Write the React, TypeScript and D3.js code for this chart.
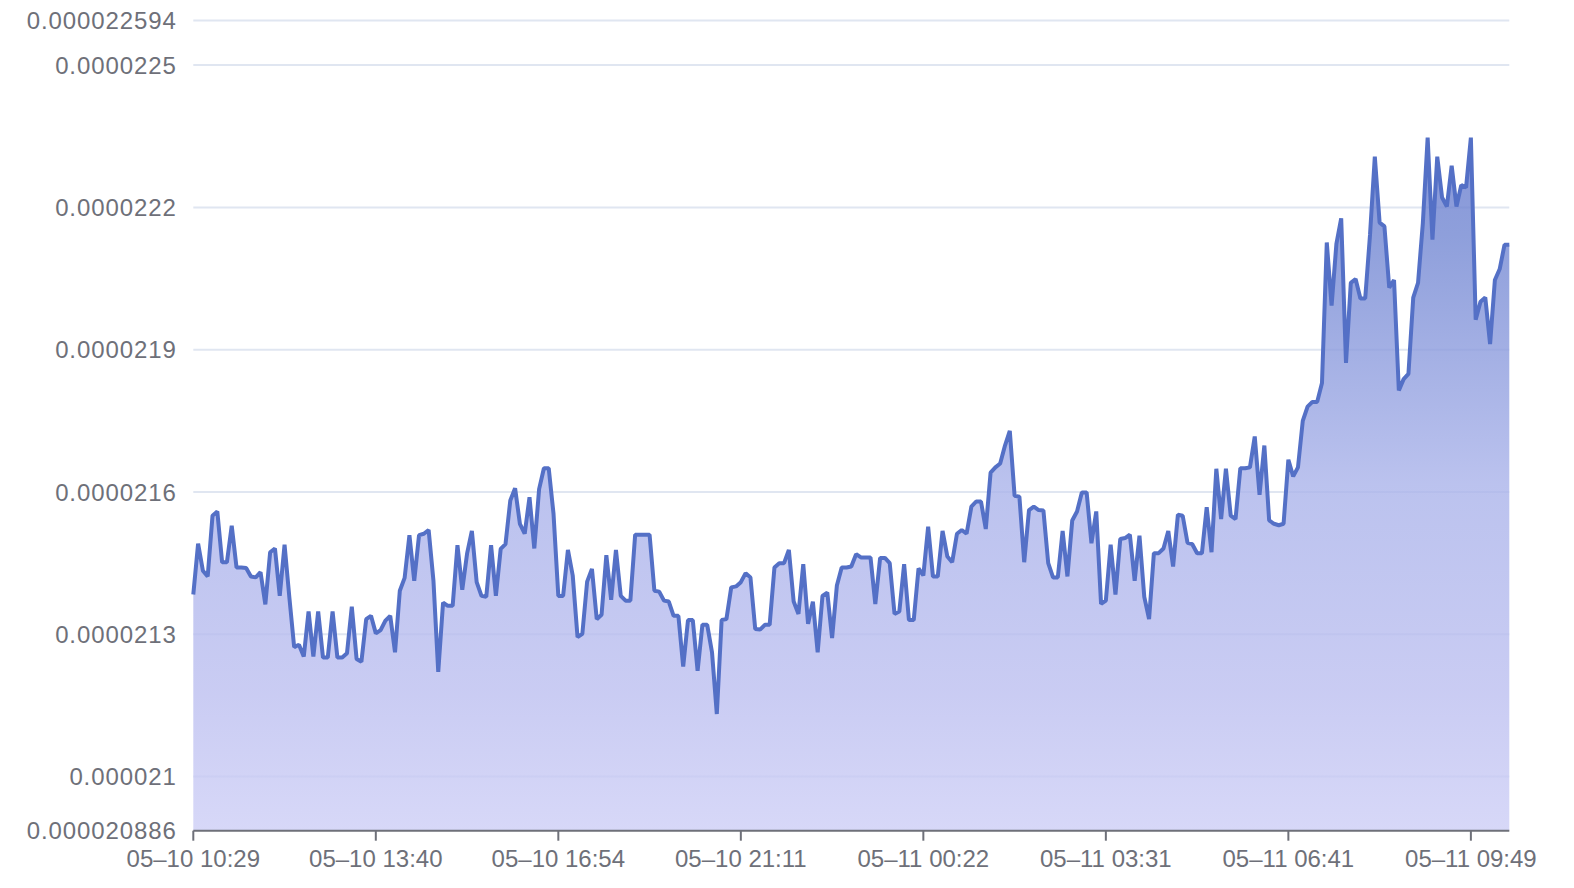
import { useMemo } from "react"
import * as d3 from "d3"

// price series, one point every ~5 minutes
const values = [
  2.1384e-5, 2.1491e-5, 2.1434e-5, 2.1422e-5, 2.155e-5, 2.1559e-5, 2.1452e-5, 2.1452e-5, 2.1529e-5, 2.1441e-5,
  2.1441e-5, 2.144e-5, 2.1422e-5, 2.142e-5, 2.1431e-5, 2.1363e-5, 2.1473e-5, 2.1481e-5, 2.1381e-5, 2.1489e-5,
  2.1378e-5, 2.1273e-5, 2.1278e-5, 2.1253e-5, 2.1348e-5, 2.1253e-5, 2.1348e-5, 2.1251e-5, 2.1251e-5, 2.1348e-5,
  2.1251e-5, 2.1251e-5, 2.126e-5, 2.1358e-5, 2.1248e-5, 2.1242e-5, 2.1332e-5, 2.1339e-5, 2.1302e-5, 2.1309e-5,
  2.1329e-5, 2.1339e-5, 2.1262e-5, 2.1392e-5, 2.1419e-5, 2.1509e-5, 2.1413e-5, 2.1509e-5, 2.1512e-5, 2.152e-5,
  2.1413e-5, 2.1221e-5, 2.1367e-5, 2.136e-5, 2.136e-5, 2.1488e-5, 2.1394e-5, 2.147e-5, 2.1518e-5, 2.141e-5,
  2.1381e-5, 2.1379e-5, 2.1488e-5, 2.1381e-5, 2.148e-5, 2.149e-5, 2.1582e-5, 2.1608e-5, 2.1533e-5, 2.1512e-5,
  2.1589e-5, 2.1481e-5, 2.1606e-5, 2.165e-5, 2.165e-5, 2.1554e-5, 2.1381e-5, 2.1381e-5, 2.1478e-5, 2.1424e-5,
  2.1294e-5, 2.1301e-5, 2.1411e-5, 2.1438e-5, 2.1332e-5, 2.1341e-5, 2.1467e-5, 2.1373e-5, 2.1478e-5, 2.1381e-5,
  2.1371e-5, 2.1371e-5, 2.151e-5, 2.151e-5, 2.151e-5, 2.151e-5, 2.1392e-5, 2.139e-5, 2.1371e-5, 2.1369e-5,
  2.1339e-5, 2.1339e-5, 2.1232e-5, 2.133e-5, 2.133e-5, 2.1223e-5, 2.132e-5, 2.132e-5, 2.1262e-5, 2.1132e-5,
  2.133e-5, 2.1332e-5, 2.1399e-5, 2.1401e-5, 2.141e-5, 2.1429e-5, 2.142e-5, 2.1311e-5, 2.131e-5, 2.132e-5,
  2.132e-5, 2.1441e-5, 2.145e-5, 2.145e-5, 2.1478e-5, 2.1369e-5, 2.1343e-5, 2.1448e-5, 2.1322e-5, 2.1369e-5,
  2.1262e-5, 2.1381e-5, 2.1388e-5, 2.1292e-5, 2.1403e-5, 2.1441e-5, 2.1441e-5, 2.1443e-5, 2.1469e-5, 2.1462e-5,
  2.1462e-5, 2.1462e-5, 2.1364e-5, 2.1461e-5, 2.1461e-5, 2.145e-5, 2.1343e-5, 2.1348e-5, 2.1448e-5, 2.133e-5,
  2.133e-5, 2.1439e-5, 2.1424e-5, 2.1527e-5, 2.1422e-5, 2.1422e-5, 2.1518e-5, 2.1464e-5, 2.1452e-5, 2.1512e-5,
  2.152e-5, 2.1512e-5, 2.1569e-5, 2.158e-5, 2.158e-5, 2.1522e-5, 2.1641e-5, 2.1652e-5, 2.166e-5, 2.1698e-5,
  2.1729e-5, 2.1592e-5, 2.159e-5, 2.1452e-5, 2.1562e-5, 2.1569e-5, 2.1562e-5, 2.1561e-5, 2.145e-5, 2.142e-5,
  2.142e-5, 2.1518e-5, 2.1422e-5, 2.154e-5, 2.1559e-5, 2.1599e-5, 2.1599e-5, 2.1492e-5, 2.1559e-5, 2.1364e-5,
  2.1371e-5, 2.1489e-5, 2.1384e-5, 2.1501e-5, 2.1503e-5, 2.151e-5, 2.1413e-5, 2.1508e-5, 2.1379e-5, 2.1332e-5,
  2.1471e-5, 2.1471e-5, 2.1481e-5, 2.1518e-5, 2.1443e-5, 2.1552e-5, 2.155e-5, 2.1493e-5, 2.149e-5, 2.1471e-5,
  2.1471e-5, 2.1568e-5, 2.1473e-5, 2.1649e-5, 2.1543e-5, 2.1649e-5, 2.155e-5, 2.1543e-5, 2.165e-5, 2.165e-5,
  2.1652e-5, 2.1717e-5, 2.1594e-5, 2.1698e-5, 2.154e-5, 2.1533e-5, 2.153e-5, 2.1533e-5, 2.1668e-5, 2.1633e-5,
  2.1652e-5, 2.175e-5, 2.178e-5, 2.179e-5, 2.179e-5, 2.183e-5, 2.2126e-5, 2.1993e-5, 2.2123e-5, 2.2177e-5,
  2.1872e-5, 2.2041e-5, 2.2049e-5, 2.2008e-5, 2.2008e-5, 2.2142e-5, 2.2307e-5, 2.2168e-5, 2.216e-5, 2.2031e-5,
  2.2047e-5, 2.1814e-5, 2.1838e-5, 2.1849e-5, 2.201e-5, 2.2041e-5, 2.2167e-5, 2.2347e-5, 2.2132e-5, 2.2307e-5,
  2.2221e-5, 2.2202e-5, 2.2288e-5, 2.2202e-5, 2.2247e-5, 2.2242e-5, 2.2347e-5, 2.1963e-5, 2.2001e-5, 2.201e-5,
  2.1912e-5, 2.2047e-5, 2.207e-5, 2.2121e-5, 2.2121e-5,
]

// x axis labels, shown every 38th point
const xTickLabels = [
  "05–10 10:29", "05–10 13:40", "05–10 16:54", "05–10 21:11",
  "05–11 00:22", "05–11 03:31", "05–11 06:41", "05–11 09:49",
]
const labelEvery = 38

const yMin = 0.000020886
const yMax = 0.000022594
const yTicks = [0.000020886, 0.000021, 0.0000213, 0.0000216, 0.0000219, 0.0000222, 0.0000225, 0.000022594]
const yTickLabels = ["0.000020886", "0.000021", "0.0000213", "0.0000216", "0.0000219", "0.0000222", "0.0000225", "0.000022594"]

const W = 1574
const H = 888
const margin = { left: 193.3, right: 64.7, top: 20.5, bottom: 57.3 }
const font = "'Liberation Sans', Arial, Helvetica, sans-serif"
const textColor = "#6E7079"

export default function App() {
  const x = useMemo(
    () => d3.scaleLinear().domain([0, values.length - 1]).range([margin.left, W - margin.right]),
    []
  )
  const y = useMemo(
    () => d3.scaleLinear().domain([yMin, yMax]).range([H - margin.bottom, margin.top]),
    []
  )

  const line = d3
    .line<number>()
    .x((_, i) => x(i))
    .y((d) => y(d))
  const area = d3
    .area<number>()
    .x((_, i) => x(i))
    .y0(y(yMin))
    .y1((d) => y(d))

  const tickIdx = xTickLabels.map((_, i) => i * labelEvery)
  const x0 = margin.left
  const x1 = W - margin.right
  const axisY = y(yMin)

  return (
    <svg
      width={W}
      height={H}
      style={{ position: "absolute", left: 0, top: 0, background: "#fff" }}
      fontFamily={font}
    >
      <defs>
        <linearGradient id="areaFill" x1="0" y1="0" x2="0" y2="1">
          <stop offset="0" stopColor="rgb(104,124,206)" />
          <stop offset="0.14" stopColor="rgb(114,135,210)" />
          <stop offset="0.5" stopColor="rgb(170,179,234)" />
          <stop offset="0.8" stopColor="rgb(188,191,240)" />
          <stop offset="1" stopColor="rgb(205,206,246)" />
        </linearGradient>
      </defs>

      {/* grid */}
      {yTicks.slice(1).map((t) => (
        <line key={t} x1={x0} x2={x1} y1={y(t)} y2={y(t)} stroke="#E0E6F1" strokeWidth={2} />
      ))}

      {/* area + line */}
      <path d={area(values) || ""} fill="url(#areaFill)" fillOpacity={0.8} />
      <path
        d={line(values) || ""}
        fill="none"
        stroke="#5470C6"
        strokeWidth={4}
        strokeLinejoin="bevel"
      />

      {/* y labels */}
      {yTicks.map((t, i) => (
        <text
          key={t}
          x={x0 - 16.6}
          y={y(t)}
          dy="0.36em"
          textAnchor="end"
          fontSize={24}
          letterSpacing={0.9}
          fill={textColor}
        >
          {yTickLabels[i]}
        </text>
      ))}

      {/* x axis */}
      <line x1={x0} x2={x1} y1={axisY} y2={axisY} stroke={textColor} strokeWidth={2} />
      {tickIdx.map((idx, i) => (
        <g key={idx} transform={`translate(${x(idx)},0)`}>
          <line y1={axisY} y2={axisY + 10} stroke={textColor} strokeWidth={2} />
          <text y={867} textAnchor="middle" fontSize={24} fill={textColor}>
            {xTickLabels[i]}
          </text>
        </g>
      ))}
    </svg>
  )
}
